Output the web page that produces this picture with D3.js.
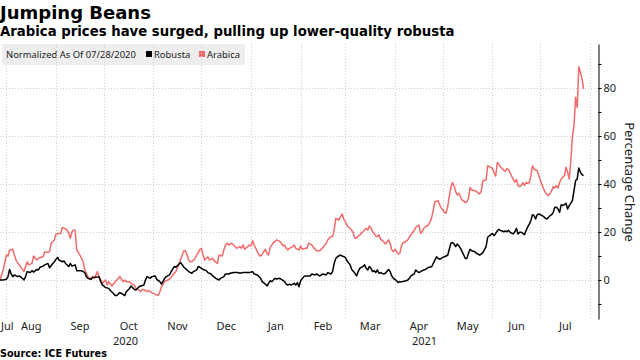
<!DOCTYPE html>
<html>
<head>
<meta charset="utf-8">
<script src="https://cdn.jsdelivr.net/npm/d3@7"></script>
<style>
	body { margin: 0; background: #fff; }
	svg { display: block; }
</style>
</head>
<body>
<svg id="chart" width="640" height="360"></svg>
<script>
// both series are normalized to 0 on this date, days below count from it
const baseDate = new Date(2020, 6, 28);

const robustaDay = [0, 2, 4, 5, 6, 7, 8, 9, 11, 12, 14, 15, 16, 17, 19, 20, 21, 23, 24, 25, 27, 28, 30, 31, 33, 34, 35, 36, 37, 39, 40, 41, 43, 44, 45, 47, 48, 50, 51, 53, 54, 55, 57, 58, 60, 62, 63, 64, 65, 66, 68, 69, 71, 72, 73, 74, 75, 77, 78, 79, 81, 82, 84, 85, 87, 88, 90, 91, 92, 94, 95, 97, 98, 100, 101, 103, 104, 106, 107, 109, 110, 112, 113, 114, 115, 117, 118, 120, 121, 123, 124, 125, 127, 129, 130, 132, 133, 135, 137, 138, 140, 141, 143, 144, 146, 148, 149, 150, 152, 154, 156, 158, 159, 161, 163, 164, 166, 167, 168, 169, 170, 172, 173, 175, 176, 178, 179, 180, 181, 182, 184, 185, 186, 187, 188, 190, 191, 193, 194, 195, 197, 198, 200, 201, 202, 204, 205, 207, 208, 209, 210, 211, 213, 214, 216, 217, 219, 220, 222, 223, 224, 225, 227, 228, 229, 230, 231, 232, 233, 234, 235, 236, 237, 238, 240, 241, 243, 244, 245, 246, 248, 249, 250, 251, 252, 254, 255, 256, 257, 258, 259, 260, 261, 262, 263, 265, 266, 268, 269, 270, 271, 272, 273, 274, 275, 277, 278, 280, 281, 282, 283, 284, 285, 286, 287, 288, 289, 290, 291, 292, 293, 294, 295, 297, 298, 300, 302, 304, 305, 307, 308, 309, 310, 311, 312, 313, 314, 315, 316, 317, 318, 319, 321, 322, 323, 324, 325, 326, 327, 328, 329, 330, 331, 332, 333, 334, 335, 336, 337, 338, 339, 340, 341, 342, 344, 345, 346, 347, 348, 349, 350, 351, 352, 353, 354, 355, 356, 357, 358, 359, 360, 361, 362, 363, 364, 365];
const robustaValue = [0, 0, 0.3, 1.4, 4.4, 2.5, 1.4, 2.1, 1.4, 1.7, 0.7, 0, 1.4, 3.5, 3.1, 3.9, 3.3, 4.4, 4.2, 5.3, 5.8, 6.3, 6.9, 5.1, 6.9, 7.6, 8.6, 9.4, 8.3, 7.6, 7.9, 6.9, 5.6, 6.9, 5.8, 6.3, 3.9, 3.9, 3.9, 3.1, 1.4, 0.7, 0.3, 1.0, 1.1, 1.4, -0.7, -2.1, -2.5, -3.1, -3.5, -4.4, -5.6, -6.5, -6.5, -5.8, -5.3, -6.0, -6.5, -4.9, -3.5, -2.5, -3.9, -4.2, -2.8, -2.5, -2.1, 0, 1.4, 0.7, 1.4, 1.7, 0.3, -0.7, -1.7, 0.7, 1.4, 2.1, 3.5, 5.6, 5.3, 6.7, 7.2, 6.3, 5.3, 4.2, 3.5, 2.8, 3.5, 4.2, 5.6, 5.3, 4.4, 3.9, 3.1, 2.5, 1.7, 0.7, 0, 0.7, 1.4, 2.5, 2.5, 2.8, 3.1, 3.1, 3.1, 2.8, 3.1, 3.1, 3.1, 3.5, 2.5, 2.1, 0.7, -0.7, -1.7, -2.5, -1.4, -0.3, -0.7, 0.7, 0.4, 0.7, 0.3, -0.7, -1.7, -2.1, -1.7, -2.1, -1.4, -2.1, -1.1, -2.8, -0.3, 1.4, 1.7, 1.7, 1.7, 2.5, 2.1, 2.5, 1.7, 2.1, 2.5, 2.1, 3.1, 2.5, 3.5, 6.9, 9.0, 9.7, 10.4, 10.0, 9.4, 8.0, 6.3, 4.4, 2.8, 1.7, 3.5, 4.9, 5.6, 6.3, 4.9, 4.2, 5.6, 4.9, 3.5, 3.9, 3.1, 4.2, 2.8, 3.1, 2.5, 2.8, 4.4, 3.5, 1.7, 0.7, -0.3, -1.1, -0.7, -0.7, -0.6, -0.3, 0, 0.7, 1.7, 2.1, 2.5, 4.2, 3.5, 3.1, 3.5, 4.2, 4.4, 5.3, 5.3, 5.6, 6.9, 8.3, 9.7, 9.0, 8.6, 9.4, 9.7, 10.3, 12.8, 15.3, 15.6, 15.0, 13.9, 15.0, 14.2, 13.2, 11.8, 10.4, 9.0, 9.0, 11.1, 12.8, 12.2, 11.8, 11.1, 10.4, 11.4, 13.9, 17.8, 18.9, 19.4, 18.5, 19.4, 20.4, 21.1, 20.7, 20.4, 20.1, 20.4, 20.1, 20.7, 19.9, 19.2, 20.1, 21.5, 19.2, 19.9, 19.9, 19.4, 18.9, 20.6, 22.0, 23.3, 24.7, 27.2, 26.8, 25.4, 27.2, 27.5, 27.2, 26.8, 26.4, 25.8, 25.4, 26.8, 27.2, 28.2, 30.3, 30.3, 29.6, 28.2, 31.4, 31.0, 31.4, 32.0, 29.6, 31.0, 32.0, 33.1, 37.2, 41.4, 42.1, 46.7, 44.9, 43.9, 43.5];

const arabicaDay = [0, 2, 4, 5, 6, 8, 9, 10, 12, 14, 15, 16, 17, 18, 20, 21, 23, 24, 25, 27, 28, 30, 31, 32, 34, 35, 37, 38, 39, 41, 42, 43, 44, 45, 46, 47, 48, 50, 52, 53, 55, 56, 58, 59, 61, 62, 63, 64, 66, 67, 68, 69, 70, 72, 73, 75, 76, 77, 78, 79, 81, 82, 84, 85, 87, 88, 89, 91, 92, 93, 95, 96, 98, 99, 100, 101, 103, 104, 106, 107, 109, 110, 112, 114, 115, 116, 117, 118, 119, 120, 122, 123, 125, 126, 127, 128, 129, 130, 131, 133, 134, 136, 137, 139, 140, 141, 142, 143, 145, 146, 148, 149, 150, 151, 152, 153, 155, 156, 157, 158, 159, 160, 162, 163, 164, 165, 166, 167, 168, 169, 171, 173, 174, 175, 176, 177, 178, 179, 180, 181, 183, 184, 185, 187, 188, 189, 191, 192, 193, 195, 196, 198, 199, 200, 202, 204, 205, 207, 208, 209, 210, 212, 213, 214, 215, 216, 217, 218, 219, 220, 221, 222, 223, 224, 225, 227, 228, 229, 230, 231, 232, 233, 234, 235, 236, 237, 238, 240, 241, 243, 244, 245, 246, 247, 248, 249, 250, 251, 252, 253, 255, 256, 257, 259, 260, 261, 262, 263, 264, 265, 266, 268, 269, 270, 271, 272, 274, 275, 276, 277, 278, 279, 280, 281, 282, 283, 284, 285, 286, 287, 288, 289, 290, 291, 292, 293, 294, 295, 297, 298, 300, 301, 302, 304, 305, 307, 308, 309, 310, 311, 312, 313, 315, 316, 317, 318, 319, 320, 321, 322, 323, 324, 325, 326, 327, 328, 329, 330, 331, 332, 333, 334, 335, 336, 337, 338, 339, 340, 341, 343, 344, 345, 346, 347, 348, 349, 350, 351, 352, 353, 354, 355, 356, 357, 358, 359, 360, 361, 362, 363, 364, 365];
const arabicaValue = [0, 4.2, 10.4, 10.0, 12.5, 12.8, 10.4, 8.3, 6.3, 4.4, 3.5, 5.6, 7.6, 6.3, 6.9, 10.0, 8.3, 9.0, 9.4, 9.7, 11.8, 11.4, 11.8, 15.3, 16.7, 19.2, 19.4, 19.4, 21.9, 21.3, 20.8, 19.4, 17.4, 20.1, 20.8, 20.6, 12.5, 10.4, 7.6, 4.2, 1.4, 0.3, 1.4, 0.7, 3.5, 0.7, 0, -1.4, 0, -2.1, -0.7, -1.7, -2.5, -0.7, 0, 1.4, 0.3, -0.7, 0, -0.7, -0.7, -1.4, -2.1, -3.5, -4.2, -4.9, -3.9, -4.4, -4.9, -4.4, -5.3, -5.6, -6.3, -6.3, -4.9, -2.8, -0.7, -0.3, 0.3, 1.1, 2.8, 3.5, 6.9, 10.4, 12.2, 12.2, 10.4, 8.3, 7.6, 7.6, 9.0, 10.4, 12.8, 13.2, 10.4, 8.3, 9.0, 9.7, 8.3, 9.0, 8.0, 6.9, 10.4, 10.0, 12.5, 14.6, 15.3, 14.6, 15.3, 14.6, 13.2, 13.6, 13.9, 13.2, 14.6, 12.8, 13.9, 14.6, 14.2, 16.4, 14.6, 13.2, 10.4, 10.0, 10.8, 11.8, 12.8, 11.1, 10.4, 13.6, 15.6, 16.7, 16.4, 16.0, 15.3, 14.2, 14.6, 13.2, 12.5, 13.2, 13.9, 14.6, 13.2, 12.5, 14.2, 12.8, 13.2, 13.2, 15.3, 14.6, 13.6, 12.2, 12.2, 12.2, 13.6, 15.3, 16.7, 18.1, 18.1, 20.8, 25.7, 25.0, 26.4, 27.5, 25.3, 24.3, 22.9, 21.9, 21.5, 20.8, 19.4, 17.4, 17.4, 18.3, 18.8, 20.1, 20.8, 21.5, 20.8, 22.5, 21.9, 20.1, 19.4, 18.3, 18.1, 18.8, 17.0, 16.0, 15.0, 16.7, 15.3, 12.5, 11.8, 12.8, 11.8, 10.8, 11.1, 13.9, 15.6, 15.6, 16.7, 17.8, 18.8, 20.6, 21.9, 22.5, 22.9, 19.4, 20.1, 21.5, 22.2, 22.9, 24.3, 26.1, 29.2, 32.6, 33.0, 31.3, 29.9, 29.2, 28.1, 27.8, 30.6, 34.7, 38.6, 40.6, 39.2, 36.8, 35.4, 36.1, 34.7, 33.3, 33.0, 32.2, 32.6, 34.0, 38.6, 37.5, 37.2, 36.8, 35.8, 37.2, 41.4, 41.7, 47.6, 46.9, 46.4, 44.7, 43.3, 48.9, 48.2, 47.1, 45.8, 45.3, 46.4, 46.0, 44.7, 43.3, 41.9, 40.8, 41.9, 39.2, 38.9, 39.4, 40.6, 39.4, 40.6, 40.3, 40.6, 43.3, 47.6, 46.3, 45.8, 45.6, 43.5, 41.4, 39.7, 37.9, 36.5, 35.1, 36.1, 37.2, 38.9, 38.3, 39.3, 38.3, 40.6, 42.1, 42.8, 43.5, 47.0, 44.9, 42.1, 49.7, 59.7, 64.4, 76.1, 71.9, 88.9, 86.5, 83.9, 79.6];

const monthLabels = ["Jul", "Aug", "Sep", "Oct", "Nov", "Dec", "Jan", "Feb", "Mar", "Apr", "May", "Jun", "Jul"];
const yearLabels = ["2020", "2021"];
const yTicks = [0, 20, 40, 60, 80];
const yMinorTicks = [-10, 10, 30, 50, 70, 90];

const robustaColor = "#000000";
const arabicaColor = "#f26a6a";

const plotLeft = 0;
const plotRight = 598;
const plotTop = 44;
const plotBottom = 319;

const svg = d3.select("#chart");

const x = d3
	.scaleTime()
	.domain([baseDate, new Date(2021, 7, 6)])
	.range([plotLeft, plotRight]);
const y = d3.scaleLinear().domain([-16.25, 98.33]).range([plotBottom, plotTop]);

function toSeries(days, values) {
	return days.map((d, i) => ({ date: d3.timeDay.offset(baseDate, d), value: values[i] }));
}
const robusta = toSeries(robustaDay, robustaValue);
const arabica = toSeries(arabicaDay, arabicaValue);

// shrink / grow a text so it spans the width measured on the reference
function fitWidth(sel, width) {
	const fs = parseFloat(sel.style("font-size"));
	const w = sel.node().getComputedTextLength();
	sel.style("font-size", (fs * width) / w + "px");
}

// titles
const title = svg
	.append("text")
	.attr("x", 0)
	.attr("y", 19)
	.style("font-family", "DejaVu Sans")
	.style("font-weight", "bold")
	.style("font-size", "18px")
	.text("Jumping Beans");
fitWidth(title, 151);

const subtitle = svg
	.append("text")
	.attr("x", 0)
	.attr("y", 36)
	.style("font-family", "DejaVu Sans")
	.style("font-weight", "bold")
	.style("font-size", "13px")
	.text("Arabica prices have surged, pulling up lower-quality robusta");
fitWidth(subtitle, 455);

// legend box
const legend = svg.append("g");
legend
	.append("rect")
	.attr("x", 2)
	.attr("y", 44)
	.attr("width", 243)
	.attr("height", 21)
	.attr("fill", "#eeeeee");

// grid
const grid = svg.append("g").attr("stroke", "#cfcfcf").attr("stroke-dasharray", "1,2");
grid
	.selectAll("line.h")
	.data(yTicks)
	.join("line")
	.attr("class", "h")
	.attr("x1", plotLeft)
	.attr("x2", plotRight)
	.attr("y1", (d) => Math.round(y(d)) + 0.5)
	.attr("y2", (d) => Math.round(y(d)) + 0.5);
const monthStarts = d3.timeMonth.range(new Date(2020, 7, 1), x.domain()[1]);
grid
	.selectAll("line.v")
	.data(monthStarts)
	.join("line")
	.attr("class", "v")
	.attr("x1", (d) => Math.round(x(d)) + 0.5)
	.attr("x2", (d) => Math.round(x(d)) + 0.5)
	.attr("y1", plotTop)
	.attr("y2", plotBottom);

// legend texts
const legendFont = "Noto Sans";
const legendLabel = legend
	.append("text")
	.attr("x", 6)
	.attr("y", 58)
	.style("font-family", legendFont)
	.style("font-size", "9.5px")
	.attr("fill", "#222")
	.text("Normalized As Of 07/28/2020");
fitWidth(legendLabel, 130);

const legendItems = [
	{ name: "Robusta", color: robustaColor, x: 146 },
	{ name: "Arabica", color: arabicaColor, x: 199 },
];
const items = legend
	.selectAll("g.item")
	.data(legendItems)
	.join("g")
	.attr("class", "item")
	.attr("transform", (d) => `translate(${d.x},0)`);
items
	.append("rect")
	.attr("x", 0)
	.attr("y", 51)
	.attr("width", 6)
	.attr("height", 6)
	.attr("fill", (d) => d.color);
items
	.append("text")
	.attr("x", 8)
	.attr("y", 58)
	.style("font-family", legendFont)
	.style("font-size", legendLabel.style("font-size"))
	.attr("fill", "#222")
	.text((d) => d.name);

// lines
const line = d3
	.line()
	.x((d) => x(d.date))
	.y((d) => y(d.value));

svg
	.append("path")
	.datum(arabica)
	.attr("fill", "none")
	.attr("stroke", arabicaColor)
	.attr("stroke-width", 1.5)
	.attr("stroke-linejoin", "round")
	.attr("d", line);

svg
	.append("path")
	.datum(robusta)
	.attr("fill", "none")
	.attr("stroke", robustaColor)
	.attr("stroke-width", 1.5)
	.attr("stroke-linejoin", "round")
	.attr("d", line);

// right axis
const axisFont = "Noto Sans";
const yAxisG = svg
	.append("g")
	.attr("transform", `translate(${plotRight + 0.5},0)`)
	.call(d3.axisRight(y).tickValues(yTicks).tickSize(3).tickSizeOuter(0).tickPadding(2));
yAxisG.select(".domain").attr("stroke", "#000");
yAxisG
	.selectAll("text")
	.style("font-family", axisFont)
	.style("font-size", "11px")
	.attr("fill", "#222");

svg
	.append("g")
	.attr("transform", `translate(${plotRight + 0.5},0)`)
	.call(d3.axisRight(y).tickValues(yMinorTicks).tickSize(3).tickFormat(""))
	.call((g) => g.select(".domain").remove());

svg
	.append("text")
	.attr("transform", `translate(625,182) rotate(90)`)
	.attr("text-anchor", "middle")
	.style("font-family", axisFont)
	.style("font-size", "13px")
	.attr("fill", "#222")
	.text("Percentage Change");

// month labels, centred in the visible part of each month
const xLabels = svg.append("g").style("font-family", axisFont).style("font-size", "11px").attr("fill", "#222");
monthLabels.forEach((label, i) => {
	const m0 = d3.timeMonth.offset(new Date(2020, 6, 1), i);
	const m1 = d3.timeMonth.offset(m0, 1);
	const a = Math.max(x(m0), plotLeft);
	const b = Math.min(x(m1), plotRight);
	const t = xLabels.append("text").attr("y", 330).text(label);
	if (i === 0) {
		t.attr("x", 1).attr("text-anchor", "start");
	} else {
		t.attr("x", (a + b) / 2).attr("text-anchor", "middle");
	}
});

yearLabels.forEach((label) => {
	const y0 = new Date(+label, 0, 1);
	const y1 = new Date(+label + 1, 0, 1);
	const a = Math.max(x(y0), plotLeft);
	const b = Math.min(x(y1), plotRight);
	xLabels
		.append("text")
		.attr("x", (a + b) / 2)
		.attr("y", 345)
		.attr("text-anchor", "middle")
		.text(label);
});

// source
const source = svg
	.append("text")
	.attr("x", 0)
	.attr("y", 357)
	.style("font-family", "DejaVu Sans")
	.style("font-weight", "bold")
	.style("font-size", "10px")
	.text("Source: ICE Futures");
fitWidth(source, 107);
</script>
</body>
</html>
